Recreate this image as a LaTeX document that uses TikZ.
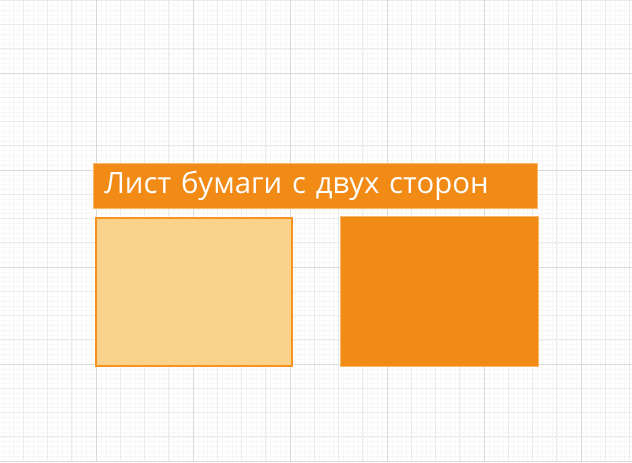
\documentclass[tikz,border=0pt]{standalone}
\usepackage{fontspec}
\setmainfont{Open Sans}
\usepackage{tikz}
\usetikzlibrary{positioning}

\definecolor{sheetorange}{HTML}{F28A16}
\definecolor{sheetlight}{HTML}{F9D38C}
\definecolor{sheetedge}{HTML}{F7921F}
\definecolor{rimlight}{HTML}{FBB86A}

\tikzset{
  finegrid/.style={line width=0.3pt,color=black!3},
  midgrid/.style={line width=0.6pt,color=black!8},
  majorgrid/.style={line width=0.75pt,color=black!15},
  titlebar/.style={rectangle,fill=sheetorange,draw=rimlight,line width=0.5pt,
    anchor=north west,minimum width=333pt,minimum height=34pt,inner xsep=8.25pt,
    text width=316.5pt,align=left,text=white,font=\fontsize{22}{25}\selectfont},
  frontside/.style={rectangle,fill=sheetlight,draw=sheetedge,line width=1.5pt,
    anchor=north west,minimum width=147pt,minimum height=111pt},
  backside/.style={rectangle,fill=sheetorange,draw=rimlight,line width=0.5pt,
    anchor=north west,minimum width=148.5pt,minimum height=112.5pt}
}

\begin{document}
\begin{tikzpicture}[x=0.75pt,y=-0.75pt]
\useasboundingbox (0,0) rectangle (632,462);
\fill[white] (0,0) rectangle (632,462);
% background grid
\foreach \k in {0,...,131}
\draw[finegrid] ({-1+4.85*\k},0) -- ({-1+4.85*\k},462);
\foreach \k in {0,...,96}
\draw[finegrid] (0,{0.25+4.85*\k}) -- (632,{0.25+4.85*\k});
\foreach \k in {0,...,26}
\draw[midgrid] ({-1+24.25*\k},0) -- ({-1+24.25*\k},462);
\foreach \k in {0,...,19}
\draw[midgrid] (0,{0.25+24.25*\k}) -- (632,{0.25+24.25*\k});
\foreach \k in {1,...,6}
\draw[majorgrid] ({-1+97*\k},0) -- ({-1+97*\k},462);
\foreach \k in {0,...,4}
\draw[majorgrid] (0,{73+97*\k}) -- (632,{73+97*\k});
% sheet
\node[titlebar] (title) at (93,163) {Лист бумаги с двух сторон};
\node[frontside] (front) at (95,216.5) {};
\node[backside] (back) at (340,216) {};
\end{tikzpicture}
\end{document}
